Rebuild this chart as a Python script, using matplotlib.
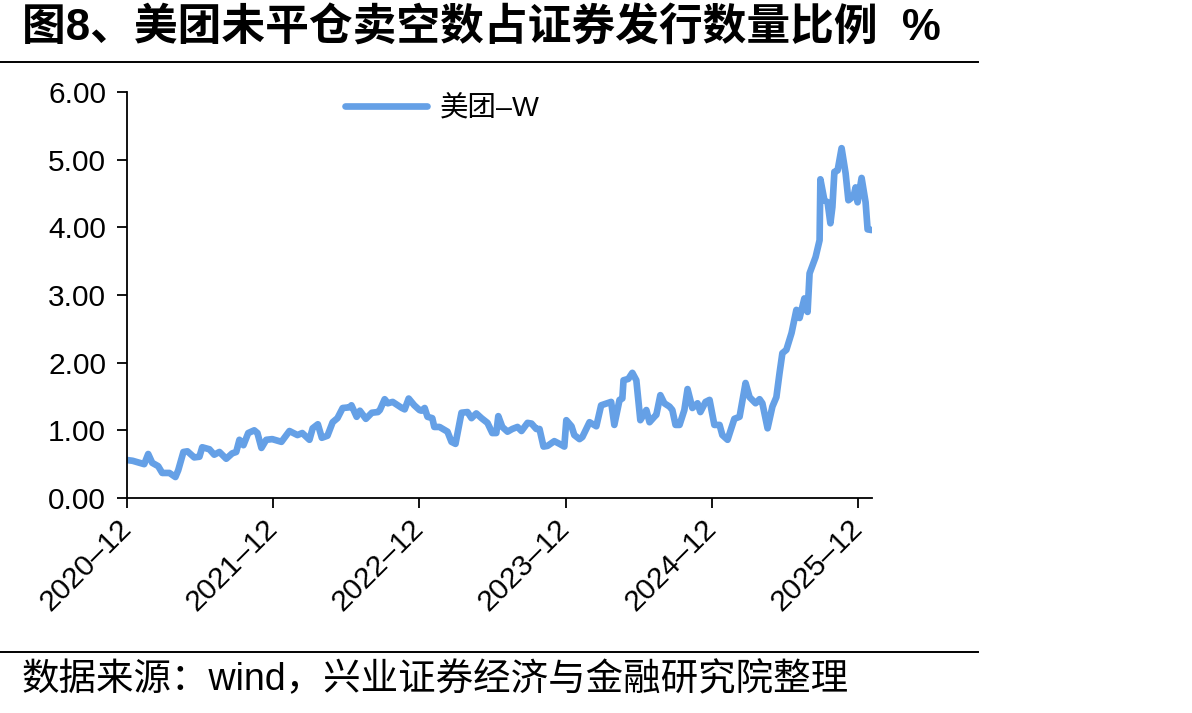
import matplotlib
matplotlib.use("Agg")
import matplotlib.pyplot as plt
import pandas as pd

dates = [
    "2020-12-01", "2020-12-14", "2020-12-31", "2021-01-12", "2021-01-22", "2021-02-01",
    "2021-02-16", "2021-02-26", "2021-03-16", "2021-03-31", "2021-04-07", "2021-04-20",
    "2021-04-30", "2021-05-17", "2021-05-30", "2021-06-06", "2021-06-24", "2021-07-06",
    "2021-07-19", "2021-08-05", "2021-08-20", "2021-08-30", "2021-09-07", "2021-09-17",
    "2021-09-29", "2021-10-14", "2021-10-22", "2021-11-01", "2021-11-13", "2021-11-28",
    "2021-12-21", "2022-01-10", "2022-01-30", "2022-02-11", "2022-03-01", "2022-03-09",
    "2022-03-22", "2022-04-01", "2022-04-15", "2022-04-28", "2022-05-10", "2022-05-23",
    "2022-06-09", "2022-06-14", "2022-06-27", "2022-07-05", "2022-07-20", "2022-08-04",
    "2022-08-19", "2022-08-24", "2022-09-05", "2022-09-13", "2022-09-25", "2022-10-18",
    "2022-10-25", "2022-11-04", "2022-11-18", "2022-12-01", "2022-12-06", "2022-12-14",
    "2022-12-21", "2023-01-02", "2023-01-07", "2023-01-20", "2023-02-09", "2023-02-19",
    "2023-03-01", "2023-03-16", "2023-03-31", "2023-04-10", "2023-04-22", "2023-05-05",
    "2023-05-20", "2023-06-01", "2023-06-11", "2023-06-16", "2023-06-26", "2023-07-09",
    "2023-07-21", "2023-08-03", "2023-08-13", "2023-08-28", "2023-09-07", "2023-09-19",
    "2023-09-27", "2023-10-07", "2023-10-17", "2023-11-03", "2023-11-16", "2023-11-28",
    "2023-12-03", "2023-12-16", "2023-12-23", "2024-01-05", "2024-01-12", "2024-01-30",
    "2024-02-16", "2024-02-28", "2024-03-14", "2024-03-24", "2024-04-01", "2024-04-14",
    "2024-04-21", "2024-04-24", "2024-05-06", "2024-05-16", "2024-05-26", "2024-06-05",
    "2024-06-20", "2024-06-28", "2024-07-10", "2024-07-15", "2024-07-25", "2024-08-04",
    "2024-08-17", "2024-08-24", "2024-09-01", "2024-09-11", "2024-09-23", "2024-10-01",
    "2024-10-13", "2024-10-26", "2024-11-02", "2024-11-15", "2024-11-25", "2024-12-07",
    "2024-12-20", "2024-12-27", "2025-01-09", "2025-01-26", "2025-02-08", "2025-02-23",
    "2025-03-05", "2025-03-20", "2025-03-30", "2025-04-06", "2025-04-19", "2025-05-01",
    "2025-05-11", "2025-05-19", "2025-05-26", "2025-06-05", "2025-06-18", "2025-06-30",
    "2025-07-08", "2025-07-20", "2025-07-28", "2025-08-02", "2025-08-17", "2025-08-27",
    "2025-08-29", "2025-09-08", "2025-09-16", "2025-09-23", "2025-09-28", "2025-10-03",
    "2025-10-11", "2025-10-21", "2025-10-31", "2025-11-07", "2025-11-20", "2025-11-25",
    "2025-11-30", "2025-12-10", "2025-12-20", "2025-12-25", "2026-01-04",
]
values = [
    0.56, 0.55, 0.52, 0.50, 0.65, 0.52,
    0.47, 0.37, 0.37, 0.31, 0.41, 0.68,
    0.69, 0.60, 0.61, 0.75, 0.72, 0.64,
    0.68, 0.58, 0.66, 0.68, 0.86, 0.78,
    0.96, 1.00, 0.96, 0.74, 0.86, 0.87,
    0.83, 0.99, 0.93, 0.96, 0.86, 1.03,
    1.09, 0.89, 0.92, 1.12, 1.18, 1.33,
    1.34, 1.37, 1.20, 1.29, 1.17, 1.26,
    1.27, 1.30, 1.46, 1.40, 1.42, 1.33,
    1.31, 1.47, 1.37, 1.30, 1.29, 1.33,
    1.20, 1.18, 1.05, 1.05, 0.98, 0.83,
    0.80, 1.26, 1.27, 1.18, 1.25, 1.18,
    1.11, 0.96, 0.96, 1.21, 1.05, 0.98,
    1.02, 1.05, 0.99, 1.11, 1.10, 1.02,
    1.02, 0.76, 0.77, 0.84, 0.80, 0.76,
    1.15, 1.06, 0.93, 0.87, 0.90, 1.12,
    1.06, 1.37, 1.40, 1.42, 1.08, 1.45,
    1.47, 1.74, 1.76, 1.85, 1.74, 1.15,
    1.30, 1.12, 1.20, 1.23, 1.52, 1.40,
    1.35, 1.30, 1.08, 1.08, 1.30, 1.61,
    1.33, 1.40, 1.27, 1.42, 1.45, 1.08,
    1.08, 0.93, 0.86, 1.17, 1.20, 1.70,
    1.49, 1.40, 1.46, 1.40, 1.03, 1.35,
    1.49, 1.85, 2.14, 2.19, 2.44, 2.78,
    2.66, 2.95, 2.75, 3.32, 3.56, 3.81,
    4.71, 4.40, 4.37, 4.06, 4.30, 4.82,
    4.84, 5.17, 4.80, 4.40, 4.46, 4.59,
    4.37, 4.73, 4.37, 3.97, 3.96,
]
series_name = "美团–W"
tick_dates = ["2020-12-01", "2021-12-01", "2022-12-01", "2023-12-01", "2024-12-01", "2025-12-01"]
tick_labels = ["2020–12", "2021–12", "2022–12", "2023–12", "2024–12", "2025–12"]
yticks = [0, 1, 2, 3, 4, 5, 6]
title = "图8、美团未平仓卖空数占证券发行数量比例  %"
source = "数据来源：wind，兴业证券经济与金融研究院整理"

FAM = ["Liberation Sans", "Noto Sans CJK SC", "DejaVu Sans"]
plt.rcParams["font.family"] = FAM

W, H = 1192, 713
fig = plt.figure(figsize=(W / 100, H / 100), dpi=100)
ax = fig.add_axes([127 / W, 1 - 498 / H, (872 - 127) / W, (498 - 92) / H])

x = pd.to_datetime(dates)
ax.plot(x, values, color="#65A0E6", lw=4.8, solid_capstyle="round", solid_joinstyle="round",
        label=series_name)

ax.set_xlim(pd.Timestamp("2020-11-30"), pd.Timestamp("2026-01-05"))
ax.set_ylim(0, 6)
ax.set_yticks(yticks)
ax.set_yticklabels([f"{v:.2f}" for v in yticks])
ax.set_xticks(pd.to_datetime(tick_dates))
ax.set_xticklabels(tick_labels, rotation=45, ha="right", va="center", rotation_mode="anchor")

for s in ["top", "right"]:
    ax.spines[s].set_visible(False)
for s in ["left", "bottom"]:
    ax.spines[s].set_linewidth(1.3)
    ax.spines[s].set_color("black")
ax.tick_params(axis="y", direction="out", length=7, width=1.3, labelsize=21.5, pad=8)
ax.tick_params(axis="x", direction="out", length=7, width=1.3, labelsize=21.5, pad=12)

leg = ax.legend(loc="upper left", bbox_to_anchor=(0.258, 1.055), frameon=False,
                fontsize=20.5, handlelength=2.9, handletextpad=0.45)

fig.text(22 / W, 1 - 28 / H, title, fontsize=31.5, fontweight="bold", ha="left", va="center",
         family=["Liberation Sans", "Noto Sans CJK SC"])
fig.add_artist(plt.Line2D([0, 978 / W], [1 - 62 / H, 1 - 62 / H], color="black", lw=1.4))
fig.add_artist(plt.Line2D([0, 978 / W], [1 - 652 / H, 1 - 652 / H], color="black", lw=1.4))
fig.text(22 / W, 1 - 680 / H, source, fontsize=27, ha="left", va="center",
         family=["Liberation Sans", "Noto Sans CJK SC"])

fig.savefig("out.png", dpi=100)
